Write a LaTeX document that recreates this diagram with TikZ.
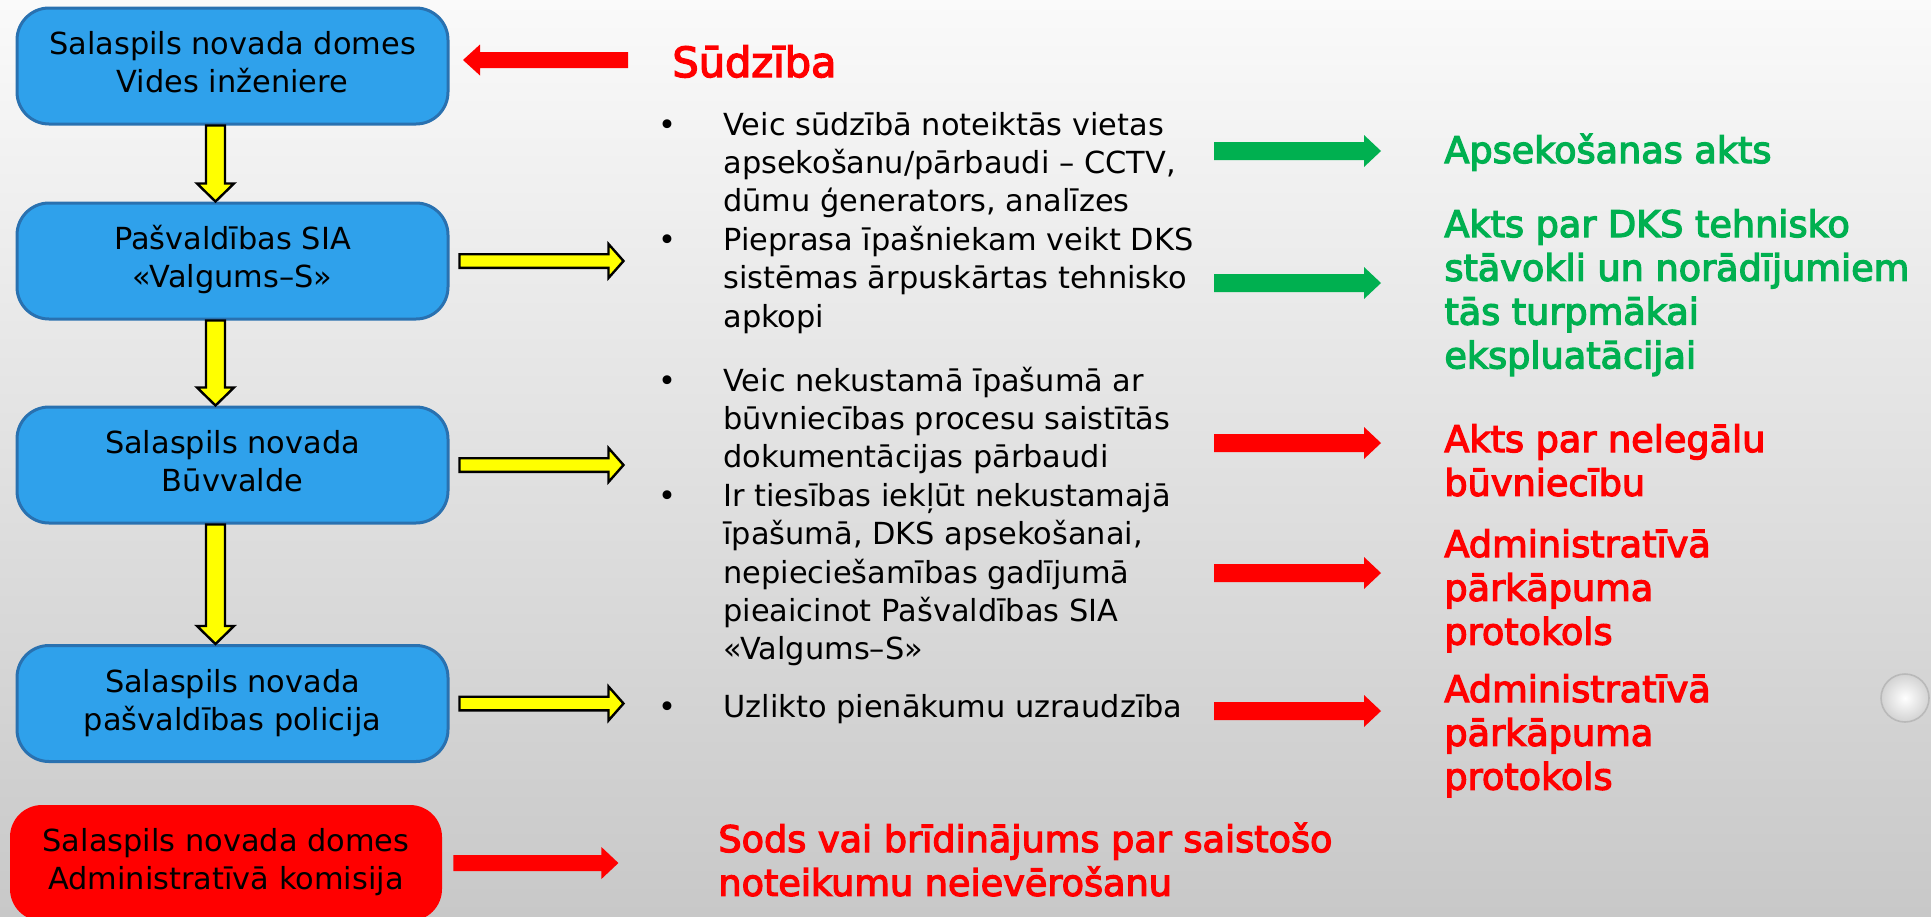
\documentclass[tikz,border=0pt]{standalone}
\usepackage{fontspec}
\setmainfont{DejaVu Sans}
\newfontfamily\demi[FakeBold=3.5]{DejaVu Sans}
\usetikzlibrary{calc}
\definecolor{boxblue}{RGB}{47,161,235}
\definecolor{boxedge}{RGB}{41,113,176}
\definecolor{pred}{RGB}{255,0,0}
\definecolor{pgreen}{RGB}{0,176,80}
\definecolor{pyellow}{RGB}{255,255,0}
\definecolor{bgtop}{RGB}{250,250,250}
\definecolor{bgmid}{RGB}{232,232,232}
\definecolor{bgbot}{RGB}{200,200,200}
% block arrow along x: style, tail, tip, half shaft, half head, head length (negative = pointing left)
\newcommand\arrR[6]{\filldraw[#1] ($(#2)+(0,{-(#4)})$) -- ($(#3)+({-(#6)},{-(#4)})$) -- ($(#3)+({-(#6)},{-(#5)})$) -- (#3) -- ($(#3)+({-(#6)},{#5})$) -- ($(#3)+({-(#6)},{#4})$) -- ($(#2)+(0,{#4})$) -- cycle;}
% block arrow downwards: style, tail, tip, half shaft, half head, head length
\newcommand\arrD[6]{\filldraw[#1] ($(#2)+({-(#4)},0)$) -- ($(#3)+({-(#4)},{-(#6)})$) -- ($(#3)+({-(#5)},{-(#6)})$) -- (#3) -- ($(#3)+({#5},{-(#6)})$) -- ($(#3)+({#4},{-(#6)})$) -- ($(#2)+({#4},0)$) -- cycle;}
\newcommand\bul{\makebox[32.5pt][l]{•}}
\newcommand\nob{\hspace*{32.5pt}}
\begin{document}
\begin{tikzpicture}[x=0.5pt,y=-0.5pt,
  box/.style={rounded corners=16pt, minimum width=215.5pt, minimum height=58pt, inner sep=0pt, font=\fontsize{15.2}{19}\selectfont},
  bluebox/.style={box, fill=boxblue, draw=boxedge, line width=1.5pt},
  redbox/.style={box, fill=pred},
  txt/.style={anchor=base west, inner sep=0pt},
  midtxt/.style={txt, font=\fontsize{15.2}{19.2}\selectfont},
  coltxt/.style={txt, font=\demi\fontsize{18.3}{21.9}\selectfont},
  yarrow/.style={fill=pyellow, draw=black, line width=1.2pt, line join=miter},
  rarrow/.style={fill=pred, draw=none},
  garrow/.style={fill=pgreen, draw=none}]
\useasboundingbox (0,0) rectangle (1931,916);
\clip (0,0) rectangle (1931,916);
\shade[top color=bgtop, middle color=bgmid, bottom color=bgbot] (0,0) rectangle (1931,916);
% droplet
\shade[inner color=white, outer color=gray!35] (1905,698) circle (12pt);
\draw[gray!55, line width=0.8pt] (1905,698) circle (12pt);

% boxes
\node[bluebox] (b1) at (232.5,66) {\begin{tabular}{@{}c@{}}Salaspils novada domes\\Vides inženiere\end{tabular}};
\node[bluebox] (b2) at (232.5,261) {\begin{tabular}{@{}c@{}}Pašvaldības SIA\\«Valgums–S»\end{tabular}};
\node[bluebox] (b3) at (232.5,465) {\begin{tabular}{@{}c@{}}Salaspils novada\\Būvvalde\end{tabular}};
\node[bluebox] (b4) at (232.5,703.5) {\begin{tabular}{@{}c@{}}Salaspils novada\\pašvaldības policija\end{tabular}};
\node[redbox, minimum width=216pt] (b5) at (226,863) {\begin{tabular}{@{}c@{}}Salaspils novada domes\\Administratīvā komisija\end{tabular}};

% texts
\node[txt, font=\demi\fontsize{20.75}{25}\selectfont, text=pred] (sud) at (672,77) {Sūdzība};
\node[midtxt] (m1) at (658,135) {\begin{tabular}[t]{@{}l@{}}\bul Veic sūdzībā noteiktās vietas\\\nob apsekošanu/pārbaudi – CCTV,\\\nob dūmu ģenerators, analīzes\\\bul Pieprasa īpašniekam veikt DKS\\\nob sistēmas ārpuskārtas tehnisko\\\nob apkopi\end{tabular}};
\node[midtxt] (m2) at (658,391) {\begin{tabular}[t]{@{}l@{}}\bul Veic nekustamā īpašumā ar\\\nob būvniecības procesu saistītās\\\nob dokumentācijas pārbaudi\\\bul Ir tiesības iekļūt nekustamajā\\\nob īpašumā, DKS apsekošanai,\\\nob nepieciešamības gadījumā\\\nob pieaicinot Pašvaldības SIA\\\nob «Valgums–S»\end{tabular}};
\node[midtxt] (m3) at (658,717) {\bul Uzlikto pienākumu uzraudzība};

\node[coltxt, text=pgreen] (g1) at (1444,163) {Apsekošanas akts};
\node[coltxt, text=pgreen] (g2) at (1444,237) {\begin{tabular}[t]{@{}l@{}}Akts par DKS tehnisko\\stāvokli un norādījumiem\\tās turpmākai\\ekspluatācijai\end{tabular}};
\node[coltxt, text=pred] (r1) at (1444,452) {\begin{tabular}[t]{@{}l@{}}Akts par nelegālu\\būvniecību\end{tabular}};
\node[coltxt, text=pred] (r2) at (1444,557) {\begin{tabular}[t]{@{}l@{}}Administratīvā\\pārkāpuma\\protokols\end{tabular}};
\node[coltxt, text=pred] (r3) at (1444,702) {\begin{tabular}[t]{@{}l@{}}Administratīvā\\pārkāpuma\\protokols\end{tabular}};
\node[coltxt, text=pred] (sods) at (718,852) {\begin{tabular}[t]{@{}l@{}}Sods vai brīdinājums par saistošo\\noteikumu neievērošanu\end{tabular}};

% arrow end points
\coordinate (st) at (628,60);
\coordinate (b1in) at (463,60);
\coordinate (d1s) at ($(b1.south)+(-17,0)$);
\coordinate (d1e) at ($(b2.north)+(-17,0)$);
\coordinate (d2s) at ($(b2.south)+(-17,0)$);
\coordinate (d2e) at ($(b3.north)+(-17,0)$);
\coordinate (d3s) at ($(b3.south)+(-17,0)$);
\coordinate (d3e) at ($(b4.north)+(-17,0)$);
\coordinate (y2s) at ($(b2.east)+(10,0)$);
\coordinate (y2e) at ($(b2.east)+(174,0)$);
\coordinate (y3s) at ($(b3.east)+(10,0)$);
\coordinate (y3e) at ($(b3.east)+(174,0)$);
\coordinate (y4s) at ($(b4.east)+(10,0)$);
\coordinate (y4e) at ($(b4.east)+(174,0)$);
\coordinate (r5s) at ($(b5.east)+(11,0)$);
\coordinate (r5e) at ($(b5.east)+(176,0)$);
\coordinate (ga1) at (1214,151); \coordinate (gb1) at (1381,151);
\coordinate (ga2) at (1214,283); \coordinate (gb2) at (1381,283);
\coordinate (ra1) at (1214,443); \coordinate (rb1) at (1381,443);
\coordinate (ra2) at (1214,573); \coordinate (rb2) at (1381,573);
\coordinate (ra3) at (1214,711); \coordinate (rb3) at (1381,711);

% arrows
\arrR{rarrow}{st}{b1in}{8}{15.5}{-17}
\arrD{yarrow}{d1s}{d1e}{9.5}{18.5}{18}
\arrD{yarrow}{d2s}{d2e}{9.5}{18.5}{18}
\arrD{yarrow}{d3s}{d3e}{9.5}{18.5}{18}
\arrR{yarrow}{y2s}{y2e}{6.8}{17}{15}
\arrR{yarrow}{y3s}{y3e}{6.8}{17}{15}
\arrR{yarrow}{y4s}{y4e}{6.8}{17}{15}
\arrR{rarrow}{r5s}{r5e}{8}{16}{17}
\arrR{garrow}{ga1}{gb1}{9}{16}{17}
\arrR{garrow}{ga2}{gb2}{9}{16}{17}
\arrR{rarrow}{ra1}{rb1}{9}{16}{17}
\arrR{rarrow}{ra2}{rb2}{9}{16}{17}
\arrR{rarrow}{ra3}{rb3}{9}{16}{17}
\end{tikzpicture}
\end{document}
